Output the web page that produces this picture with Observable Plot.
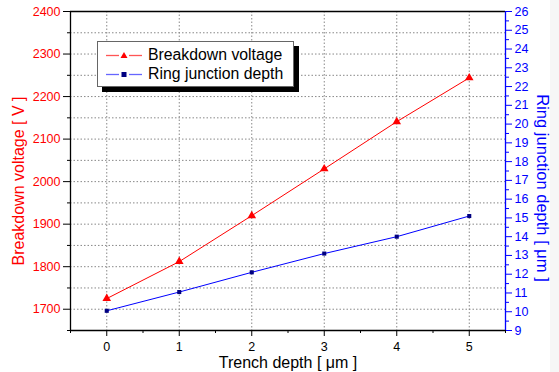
<!DOCTYPE html>
<html><head><meta charset="utf-8">
<script src="https://cdn.jsdelivr.net/npm/d3@7"></script>
<script src="https://cdn.jsdelivr.net/npm/@observablehq/plot@0.6"></script>
<style>
body{margin:0;background:#fff;font-family:"Liberation Sans",Arial,sans-serif;}
#wrap{position:relative;width:559px;height:372px;}
#edge{position:absolute;left:550px;top:0;width:9px;height:372px;background:#f6f6f6;}
#legend{position:absolute;left:97px;top:41px;width:195px;height:44px;background:#fff;border:1px solid #666;box-shadow:5px 5px 0 #000;font-size:15.8px;}
#legend .row{position:absolute;left:8px;height:19px;display:flex;align-items:center;}
#legend svg{margin-right:4px;}
</style></head>
<body><div id="wrap"><div id="edge"></div></div>
<script>
const trenchDepth = [0, 1, 2, 3, 4, 5];
const breakdownVoltage = [1725, 1812, 1920, 2030, 2141, 2244];
const ringJunctionDepth = [10.05, 11.05, 12.1, 13.1, 14.0, 15.1];
const xTicks = [0, 1, 2, 3, 4, 5];
const xMinorTicks = [-0.5, 0.5, 1.5, 2.5, 3.5, 4.5, 5.5];
const leftTicks = [1700, 1800, 1900, 2000, 2100, 2200, 2300, 2400];
const leftMinorTicks = [1650, 1750, 1850, 1950, 2050, 2150, 2250, 2350];
const gridTicks = [1700, 1750, 1800, 1850, 1900, 1950, 2000, 2050, 2100, 2150, 2200, 2250, 2300, 2350];
const rightTicks = [9,10,11,12,13,14,15,16,17,18,19,20,21,22,23,24,25,26];
const rightMinorTicks = [9.5,10.5,11.5,12.5,13.5,14.5,15.5,16.5,17.5,18.5,19.5,20.5,21.5,22.5,23.5,24.5,25.5];
const leftDomain = [1650, 2400];
const rightDomain = [9, 26];
const xDomain = [-0.5, 5.5];

const toLeft = v => leftDomain[0] + (v - rightDomain[0]) * (leftDomain[1] - leftDomain[0]) / (rightDomain[1] - rightDomain[0]);
const fromLeft = y => rightDomain[0] + (y - leftDomain[0]) * (rightDomain[1] - rightDomain[0]) / (leftDomain[1] - leftDomain[0]);

const red = trenchDepth.map((x, i) => ({x, y: breakdownVoltage[i]}));
const blue = trenchDepth.map((x, i) => ({x, y: toLeft(ringJunctionDepth[i])}));

const chart = Plot.plot({
  width: 559, height: 372,
  marginLeft: 70, marginRight: 54, marginTop: 11, marginBottom: 42,
  style: {fontFamily: "Liberation Sans, Arial, sans-serif", fontSize: "12.5px", background: "transparent", position: "relative"},
  x: {domain: xDomain},
  y: {domain: leftDomain},
  marks: [
    Plot.gridX(xTicks, {stroke: "#888", strokeOpacity: 1, strokeDasharray: "1.5,2"}),
    Plot.gridY(gridTicks, {stroke: "#888", strokeOpacity: 1, strokeDasharray: "1.5,2"}),
    Plot.axisX({ticks: xTicks, tickSize: 6, tickPadding: 6, tickFormat: d => String(d), label: null}),
    Plot.axisX({ticks: xMinorTicks, tickSize: 3, tickFormat: () => "", label: null}),
    Plot.axisY({ticks: leftTicks, tickSize: 7, tickPadding: 3, stroke: "#000", fill: "#ff0000", tickFormat: d => String(d), label: null}),
    Plot.axisY({ticks: leftMinorTicks, tickSize: 3, tickFormat: () => "", label: null}),
    Plot.axisY({anchor: "right", ticks: rightTicks.map(toLeft), tickSize: 6, tickPadding: 3, stroke: "#0000ff", fill: "#0000ff", tickFormat: d => String(Math.round(fromLeft(d))), label: null}),
    Plot.axisY({anchor: "right", ticks: rightMinorTicks.map(toLeft), tickSize: 3, stroke: "#0000ff", tickFormat: () => "", label: null}),
    Plot.ruleY([leftDomain[0]], {stroke: "#000", strokeWidth: 1.3}),
    Plot.ruleY([leftDomain[1]], {stroke: "#000", strokeWidth: 1.3}),
    Plot.ruleX([xDomain[0]], {stroke: "#000", strokeWidth: 1.3}),
    Plot.ruleX([xDomain[1]], {stroke: "#0000ff", strokeWidth: 1.3}),
    Plot.line(red, {x: "x", y: "y", stroke: "#ff0000", strokeWidth: 1}),
    Plot.dot(red, {x: "x", y: "y", symbol: "triangle", r: 3.2, fill: "#ff0000", stroke: "none"}),
    Plot.line(blue, {x: "x", y: "y", stroke: "#0000ff", strokeWidth: 1}),
    Plot.dot(blue, {x: "x", y: "y", symbol: "square", r: 2.3, fill: "#000080", stroke: "none"}),
    Plot.text(["Breakdown voltage [ V ]"], {frameAnchor: "left", textAnchor: "middle", lineAnchor: "middle", dx: -52, dy: 10, rotate: -90, fill: "#ff0000", fontSize: 16}),
    Plot.text(["Ring junction depth [ μm ]"], {frameAnchor: "right", textAnchor: "middle", lineAnchor: "middle", dx: 37, dy: 17, rotate: 90, fill: "#0000ff", fontSize: 16.5}),
    Plot.text(["Trench depth [ μm ]"], {frameAnchor: "bottom", textAnchor: "middle", lineAnchor: "middle", dy: 32, fill: "#000", fontSize: 16})
  ]
});
const wrap = document.getElementById("wrap");
wrap.appendChild(chart);
const legend = document.createElement("div");
legend.id = "legend";
const items = [
  {label: "Breakdown voltage", color: "#ff5555", mark: "#ff0000", shape: "tri"},
  {label: "Ring junction depth", color: "#6666ff", mark: "#000080", shape: "sq"}
];
items.forEach((it, i) => {
  const row = document.createElement("div");
  row.className = "row";
  row.style.top = (i === 0 ? 3 : 22) + "px";
  const sym = it.shape === "tri"
    ? `<path d="M18,6 L21.5,12 L14.5,12 Z" fill="${it.mark}"/>`
    : `<rect x="15.5" y="7" width="5" height="5" fill="${it.mark}"/>`;
  row.innerHTML = `<svg width="38" height="18"><line x1="0" y1="9.5" x2="13" y2="9.5" stroke="${it.color}" stroke-width="1.3"/><line x1="23" y1="9.5" x2="36" y2="9.5" stroke="${it.color}" stroke-width="1.3"/>${sym}</svg><span>${it.label}</span>`;
  legend.appendChild(row);
});
wrap.appendChild(legend);
</script></body></html>
